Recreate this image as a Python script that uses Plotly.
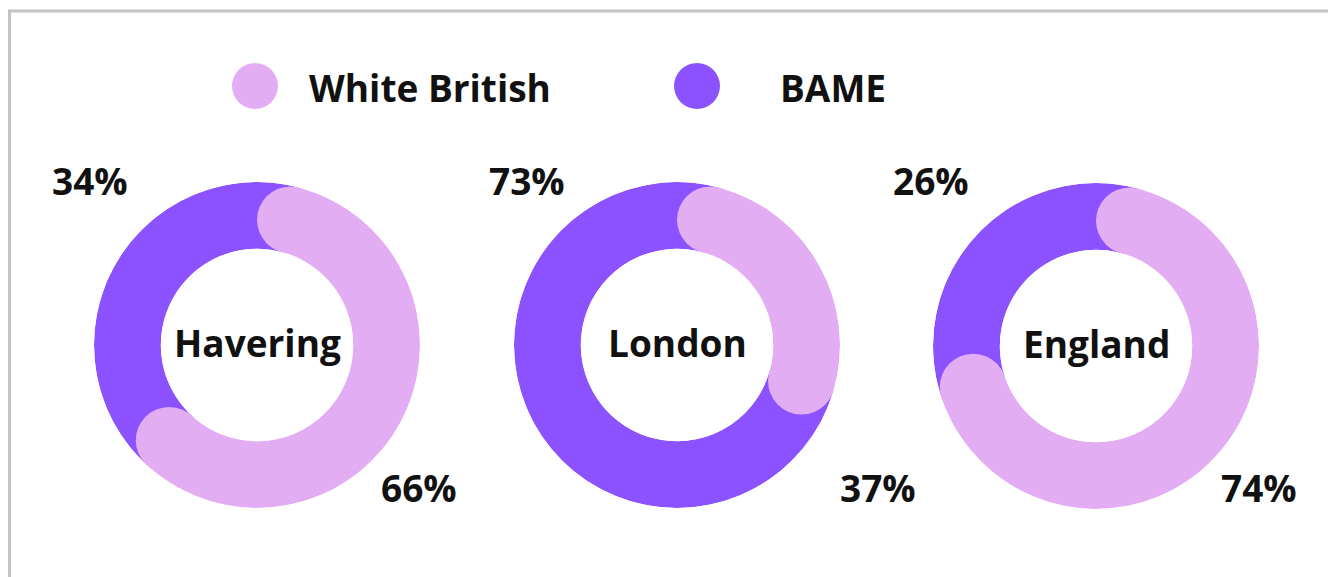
import math
import plotly.graph_objects as go

# ---- data ----
regions = ["Havering", "London", "England"]
white_british = [66, 37, 74]
bame = [34, 73, 26]
series_names = ["White British", "BAME"]

# ---- style / layout ----
WB_COLOR = "#E2ADF3"
BAME_COLOR = "#8C52FF"
TEXT_COLOR = "#111111"
FONT = "Open Sans"
W, H = 1328, 577

centers_px = [(257, 345), (677, 345), (1096, 346)]
bame_label_px = [(90, 180), (527, 180), (931, 180)]
wb_label_px = [(419, 487), (878, 487), (1259, 487)]
R_OUT = 163
HOLE = 0.59

thick = R_OUT * (1 - HOLE)
r_mid_px = R_OUT * (1 + HOLE) / 2
delta = math.degrees(math.asin(thick / 2 / r_mid_px))


def px(x, y):
    return x / W, 1 - y / H


fig = go.Figure()
annotations = []
polar_layouts = {}

for i, name in enumerate(regions):
    pid = "polar" if i == 0 else f"polar{i + 1}"
    total = white_british[i] + bame[i]
    end = white_british[i] / total * 360

    # BAME segment (extended under the rounded caps)
    fig.add_trace(go.Barpolar(
        r=[1], theta=[(end + 360) / 2], width=[360 - end + 2 * delta],
        marker=dict(color=BAME_COLOR, line=dict(width=0)),
        subplot=pid, showlegend=False, name=series_names[1],
        hovertemplate=f"{name}<br>BAME: {bame[i]}%<extra></extra>",
    ))
    # White British segment
    fig.add_trace(go.Barpolar(
        r=[1], theta=[end / 2], width=[end - 2 * delta],
        marker=dict(color=WB_COLOR, line=dict(width=0)),
        subplot=pid, showlegend=False, name=series_names[0],
        hovertemplate=f"{name}<br>White British: {white_british[i]}%<extra></extra>",
    ))
    # rounded caps
    fig.add_trace(go.Scatterpolar(
        r=[0.5, 0.5], theta=[delta, end - delta], mode="markers",
        marker=dict(size=thick, color=WB_COLOR, line=dict(width=0)),
        subplot=pid, showlegend=False, hoverinfo="skip",
    ))

    cx, cy = centers_px[i]
    polar_layouts[pid] = dict(
        domain=dict(x=[(cx - R_OUT) / W, (cx + R_OUT) / W],
                    y=[(H - cy - R_OUT) / H, (H - cy + R_OUT) / H]),
        hole=HOLE,
        bargap=0,
        bgcolor="rgba(0,0,0,0)",
        radialaxis=dict(range=[0, 1], visible=False),
        angularaxis=dict(rotation=90, direction="clockwise", visible=False),
    )

    x, y = px(cx, cy - 3)
    annotations.append(dict(x=x, y=y, xref="paper", yref="paper", text=name,
                            showarrow=False, xanchor="center", yanchor="middle"))
    x, y = px(*bame_label_px[i])
    annotations.append(dict(x=x, y=y, xref="paper", yref="paper", text=f"{bame[i]}%",
                            showarrow=False, xanchor="center", yanchor="middle"))
    x, y = px(*wb_label_px[i])
    annotations.append(dict(x=x, y=y, xref="paper", yref="paper", text=f"{white_british[i]}%",
                            showarrow=False, xanchor="center", yanchor="middle"))

# legend (custom)
legend_swatch_px = [(255, 86), (697, 86)]
legend_text_px = [(307, 87), (778, 87)]
legend_colors = [WB_COLOR, BAME_COLOR]
shapes = []
SW = 23
for (sx, sy), (tx, ty), lab, col in zip(legend_swatch_px, legend_text_px, series_names, legend_colors):
    shapes.append(dict(type="circle", xref="paper", yref="paper",
                       x0=(sx - SW) / W, x1=(sx + SW) / W,
                       y0=1 - (sy + SW) / H, y1=1 - (sy - SW) / H,
                       fillcolor=col, line=dict(width=0)))
    x, y = px(tx, ty)
    annotations.append(dict(x=x, y=y, xref="paper", yref="paper", text=lab,
                            showarrow=False, xanchor="left", yanchor="middle"))

# frame lines (top and left)
shapes.append(dict(type="line", xref="paper", yref="paper", x0=8 / W, x1=1, y0=1 - 11 / H, y1=1 - 11 / H,
                   line=dict(color="#C4C4C4", width=3)))
shapes.append(dict(type="line", xref="paper", yref="paper", x0=9.5 / W, x1=9.5 / W, y0=0, y1=1 - 10 / H,
                   line=dict(color="#C4C4C4", width=3)))

fig.update_layout(
    width=W, height=H,
    margin=dict(l=0, r=0, t=0, b=0),
    paper_bgcolor="white", plot_bgcolor="white",
    font=dict(family=FONT, size=37, color=TEXT_COLOR, weight=700),
    annotations=annotations,
    shapes=shapes,
    showlegend=False,
    **polar_layouts,
)

fig.write_html(
    "out.html",
    config={"displayModeBar": False},
    post_script="document.body.style.margin='0';document.body.style.overflow='hidden';",
)
